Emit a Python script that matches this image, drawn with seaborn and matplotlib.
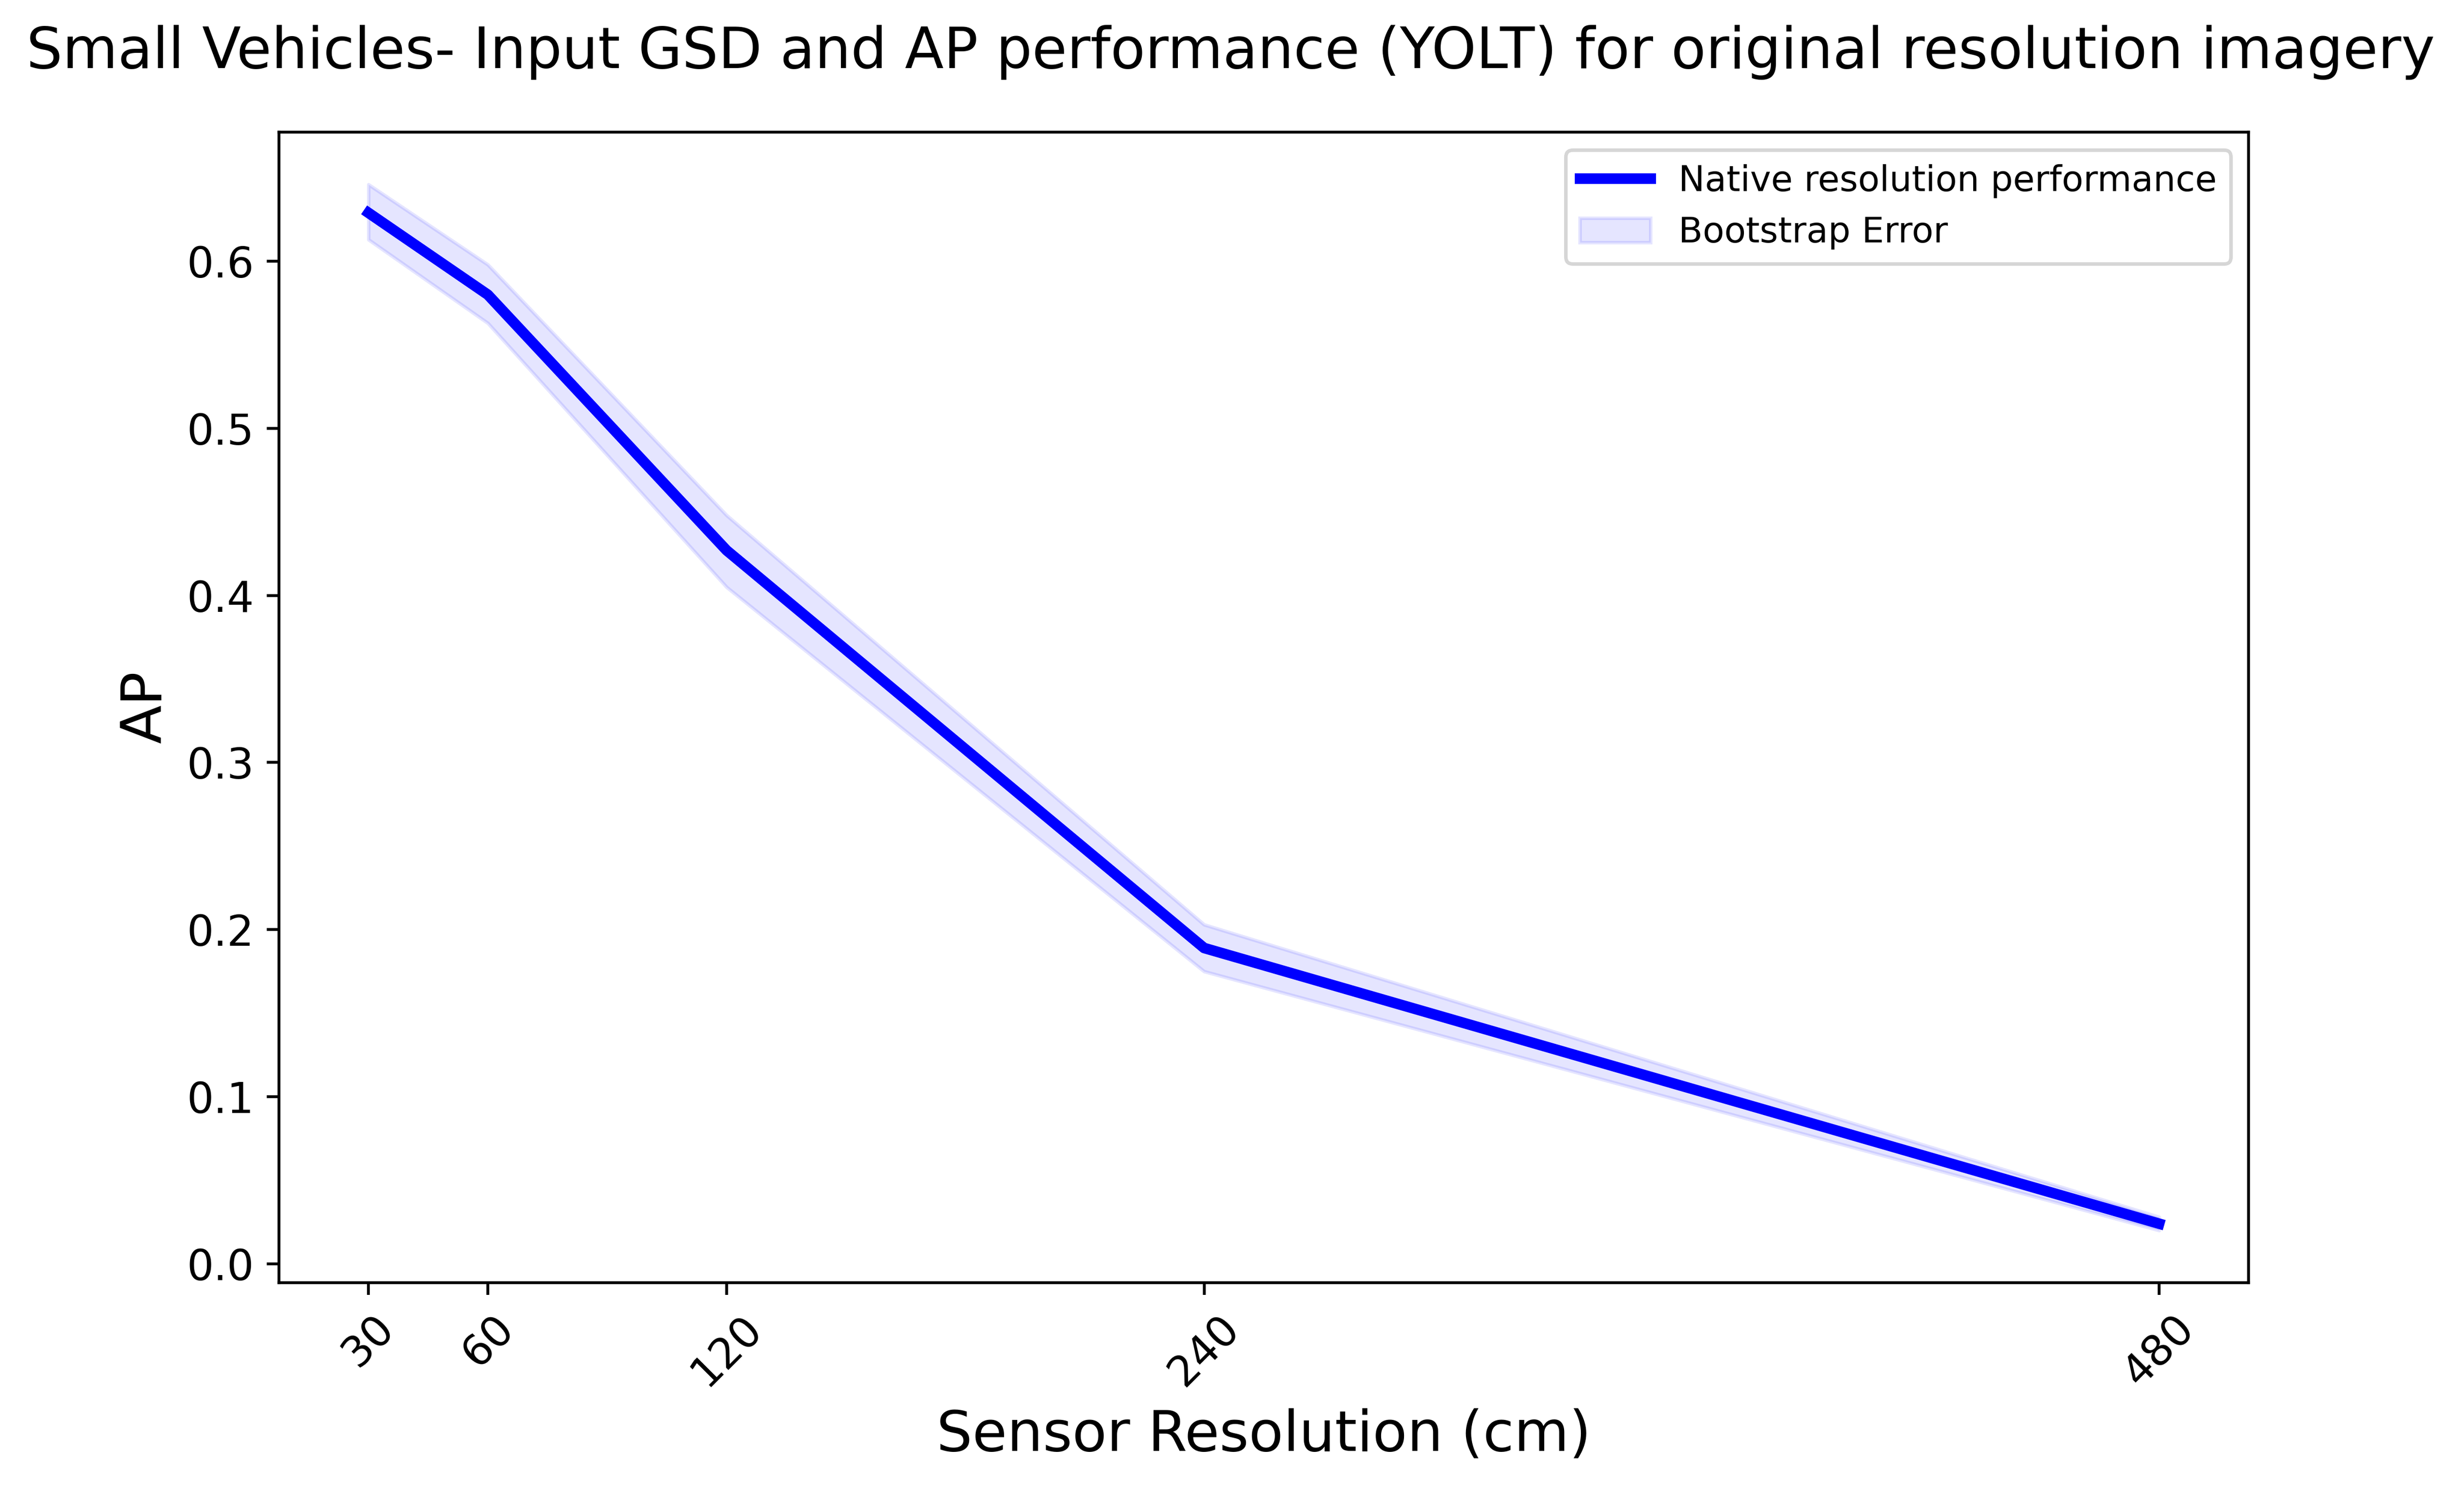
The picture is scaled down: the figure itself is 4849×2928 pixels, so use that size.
import numpy as np
import pandas as pd
import matplotlib
matplotlib.use("Agg")
import matplotlib.pyplot as plt
import seaborn as sns

# Sensor resolution (cm) vs AP
gsd = [30, 60, 120, 240, 480]
ap = [0.629, 0.580, 0.427, 0.189, 0.024]
ap_upper = [0.646, 0.598, 0.448, 0.203, 0.028]
ap_lower = [0.613, 0.563, 0.405, 0.175, 0.020]

df = pd.DataFrame({"GSD": gsd, "AP": ap, "upper": ap_upper, "lower": ap_lower})

fig = plt.figure(figsize=(4849 / 500, 2928 / 500), dpi=500)
ax = fig.add_axes([0.1132, 0.138, 0.9126 - 0.1132, 0.9112 - 0.138])

sns.lineplot(x="GSD", y="AP", data=df, color="blue", lw=3,
             label="Native resolution performance", ax=ax)
ax.fill_between(df["GSD"], df["lower"], df["upper"], color="blue", alpha=0.1,
                label="Bootstrap Error")

ax.set_xticks(gsd)
ax.set_xticklabels([str(g) for g in gsd], rotation=45)
ax.tick_params(labelsize=12)
ax.set_xlabel("Sensor Resolution (cm)", fontsize=16)
ax.set_ylabel("AP", fontsize=16)
ax.legend(loc="upper right", fontsize=10)

fig.suptitle("Small Vehicles- Input GSD and AP performance (YOLT) for original resolution imagery",
             fontsize=16.1, x=0.4995, y=1 - 134 / 2928, va="baseline")

fig.savefig("out.png", dpi=500)
